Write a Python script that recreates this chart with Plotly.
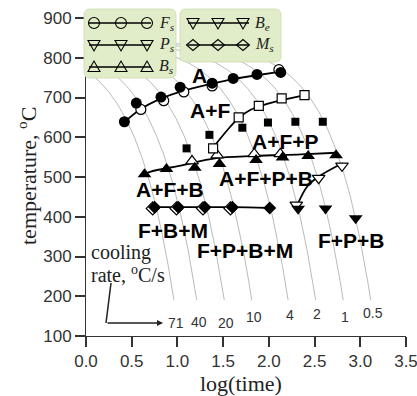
import numpy as np
import plotly.graph_objects as go

# ---------------- data ----------------
# cooling rates of the thin grey cooling curves, degC/s
rates = [71, 40, 20, 10, 4, 2, 1, 0.5]
rate_labels = ["71", "40", "20", "10", "4", "2", "1", "0.5"]
T_start = 840      # start temperature of the cooling curves
T_end = 190        # curves drawn down to this temperature

# filled circles
fc_x = [0.42, 0.55, 0.82, 1.03, 1.38, 1.61, 1.87, 2.13]
fc_T = [639, 686, 701, 726, 736, 748, 758, 763]
# open circles (F_s)
fs_x = [0.60, 0.85, 1.07, 1.38, 2.11]
fs_T = [670, 692, 714, 729, 770]
# F_s fitted line
fsfit_x = [0.42, 0.60, 0.82, 1.05, 1.38, 1.62, 1.87, 2.13]
fsfit_T = [638, 671, 697, 716, 735, 747, 756, 765]

# open squares (pearlite start)
ps_x = [1.39, 1.67, 1.89, 2.14, 2.39]
ps_T = [572, 650, 679, 698, 706]
psfit_x = [1.39, 1.58, 1.67, 1.80, 1.94, 2.16, 2.39]
psfit_T = [574, 627, 648, 669, 681, 694, 706]
# filled squares
sq_x = [1.10, 1.35, 1.71, 1.99, 2.29, 2.59]
sq_T = [572, 606, 624, 637, 639, 639]

# filled triangles
bt_x = [0.64, 0.88, 1.19, 1.46, 1.86, 2.15, 2.43, 2.735]
bt_T = [507, 520, 523, 533, 543, 549, 553, 555]
# open triangles (B_s)
bs_x = [1.16, 1.435, 1.84, 2.125]
bs_T = [540, 555, 558, 558]
bsfit_x = [0.64, 0.70, 1.06, 1.41, 1.85, 2.35, 2.74]
bsfit_T = [507, 513, 530, 547, 553, 557, 561]

# filled diamonds
md_x = [0.75, 1.01, 1.30, 1.60, 2.01]
md_T = [424, 424, 424, 424, 422]
# open diamonds (M_s)
ms_x = [0.73, 0.99, 1.28, 1.58]
ms_T = [421, 421, 421, 421]

# filled inverted triangles
bf_x = [2.32, 2.62, 2.95]
bf_T = [420, 421, 396]
# open inverted triangles (B_e)
be_x = [2.30, 2.545, 2.80]
be_T = [430, 497, 528]
befit_x = [2.32, 2.42, 2.545, 2.80]
befit_T = [434, 476, 501, 534]

x_ticks = [0.0, 0.5, 1.0, 1.5, 2.0, 2.5, 3.0, 3.5]
x_ticktext = ["0.0", "0.5", "1.0", "1.5", "2.0", "2.5", "3.0", "3.5"]
y_ticks = [100, 200, 300, 400, 500, 600, 700, 800, 900]

phase_labels = ["A", "A+F", "A+F+P", "A+F+P+B", "A+F+B", "F+B+M", "F+P+B+M", "F+P+B"]

# ---------------- layout geometry ----------------
W, H = 417, 396
ML, MR, MT, MB = 86, 11, 18, 60
PW, PH = W - ML - MR, H - MT - MB
X0 = H - MB  # pixel row of y=100


def xp(px):
    return (px - ML) / PW


def yp(py):
    return (X0 - py) / PH


def dx(px):
    return (px - ML) / PW * 3.5


def dT(py):
    return 100 + (X0 - py) / PH * 800


def P(px, py):
    return f"{xp(px):.5f},{yp(py):.5f}"


fig = go.Figure()

# cooling curves
for r in rates:
    Ts = np.linspace(T_start - 0.3, T_end, 400)
    xs = np.log10((T_start - Ts) / r)
    fig.add_trace(go.Scatter(x=xs, y=Ts, mode="lines",
                             line=dict(color="#a8a8a8", width=0.8),
                             hoverinfo="skip"))

# fitted lines
for fx, fy in [(fsfit_x, fsfit_T), (psfit_x, psfit_T), (bsfit_x, bsfit_T),
               (md_x, md_T), (befit_x, befit_T)]:
    fig.add_trace(go.Scatter(x=fx, y=fy, mode="lines",
                             line=dict(color="black", width=1.8, shape="spline"),
                             hoverinfo="skip"))

openm = dict(color="white", line=dict(color="black", width=1.2))
fig.add_trace(go.Scatter(x=fs_x, y=fs_T, mode="markers",
                         marker=dict(symbol="circle", size=10, **openm)))
fig.add_trace(go.Scatter(x=bs_x, y=bs_T, mode="markers",
                         marker=dict(symbol="triangle-up", size=11, **openm)))
fig.add_trace(go.Scatter(x=ms_x, y=ms_T, mode="markers",
                         marker=dict(symbol="diamond", size=10, **openm)))
fig.add_trace(go.Scatter(x=be_x, y=be_T, mode="markers",
                         marker=dict(symbol="triangle-down", size=11, **openm)))
fig.add_trace(go.Scatter(x=ps_x, y=ps_T, mode="markers",
                         marker=dict(symbol="square", size=9, **openm)))

fill = dict(color="black")
fig.add_trace(go.Scatter(x=fc_x, y=fc_T, mode="markers",
                         marker=dict(symbol="circle", size=11, **fill)))
fig.add_trace(go.Scatter(x=sq_x, y=sq_T, mode="markers",
                         marker=dict(symbol="square", size=8, **fill)))
fig.add_trace(go.Scatter(x=bt_x, y=bt_T, mode="markers",
                         marker=dict(symbol="triangle-up", size=12, **fill)))
fig.add_trace(go.Scatter(x=md_x, y=md_T, mode="markers",
                         marker=dict(symbol="diamond", size=10, **fill)))
fig.add_trace(go.Scatter(x=bf_x, y=bf_T, mode="markers",
                         marker=dict(symbol="triangle-down", size=12, **fill)))

annotations = []
shapes = []

# phase-field labels
label_pos = [(199, 75), (210, 110), (285, 141), (266, 178), (170, 189),
             (173, 230), (245, 250), (351, 240)]
for txt, (px, py) in zip(phase_labels, label_pos):
    annotations.append(dict(x=dx(px), y=dT(py), xref="x", yref="y", text=txt,
                            showarrow=False, xanchor="center", yanchor="middle",
                            font=dict(family="Liberation Sans", size=21, color="black",
                                      weight="bold")))

# cooling-rate labels at the end of each curve
label_T = [133, 135, 133, 148, 153, 155, 148, 158]
for r, lab, lt in zip(rates, rate_labels, label_T):
    xe = np.log10((T_start - T_end) / r) + 0.02
    annotations.append(dict(x=xe, y=lt, xref="x", yref="y", text=lab,
                            showarrow=False, xanchor="center", yanchor="middle",
                            font=dict(family="Liberation Sans", size=14, color="#333")))

# "cooling rate" note and arrow
serif = "Liberation Serif"
annotations.append(dict(x=xp(89), y=yp(252), xref="paper", yref="paper", text="cooling",
                        showarrow=False, xanchor="left", yanchor="middle",
                        font=dict(family=serif, size=20, color="#222")))
annotations.append(dict(x=xp(89), y=yp(274), xref="paper", yref="paper",
                        text="rate, <sup>o</sup>C/s",
                        showarrow=False, xanchor="left", yanchor="middle",
                        font=dict(family=serif, size=20, color="#222")))
shapes.append(dict(type="line", xref="paper", yref="paper",
                   x0=xp(111), y0=yp(283), x1=xp(106), y1=yp(323),
                   line=dict(color="#222", width=1.5)))
annotations.append(dict(x=xp(163), y=yp(323), xref="paper", yref="paper", text="",
                        showarrow=True, ax=-57, ay=0, arrowhead=2, arrowsize=0.8,
                        arrowwidth=1.5, arrowcolor="#222"))

# axis titles
annotations.append(dict(x=xp(241), y=yp(383), xref="paper", yref="paper", text="log(time)",
                        showarrow=False, xanchor="center", yanchor="middle",
                        font=dict(family=serif, size=22, color="#222")))
annotations.append(dict(x=xp(27), y=yp(176), xref="paper", yref="paper",
                        text="temperature, <sup>o</sup>C", textangle=-90,
                        showarrow=False, xanchor="center", yanchor="middle",
                        font=dict(family=serif, size=22, color="#222")))


# legend boxes drawn by hand
def rrect(x0, y0, x1, y1, r):
    return (f"M {P(x0 + r, y0)} L {P(x1 - r, y0)} Q {P(x1, y0)} {P(x1, y0 + r)} "
            f"L {P(x1, y1 - r)} Q {P(x1, y1)} {P(x1 - r, y1)} L {P(x0 + r, y1)} "
            f"Q {P(x0, y1)} {P(x0, y1 - r)} L {P(x0, y0 + r)} Q {P(x0, y0)} {P(x0 + r, y0)} Z")


box_fill = "#e1edc8"
box_line = "#cbdab0"
for bx in [(84, 9, 176, 78), (180, 9, 281, 62)]:
    shapes.append(dict(type="path", xref="paper", yref="paper", layer="above",
                       path=rrect(*bx, 6), fillcolor=box_fill,
                       line=dict(color=box_line, width=0.8)))


def marker_path(sym, cx, cy):
    if sym == "up":
        pts = [(cx - 6, cy + 4.5), (cx + 6, cy + 4.5), (cx, cy - 6)]
    elif sym == "down":
        pts = [(cx - 6, cy - 4.5), (cx + 6, cy - 4.5), (cx, cy + 6)]
    else:
        pts = [(cx - 6.5, cy), (cx, cy - 5.5), (cx + 6.5, cy), (cx, cy + 5.5)]
    return "M " + " L ".join(P(a, b) for a, b in pts) + " Z"


legend_rows = [
    ("circle", "F", "s", 23, [94, 121, 147], (89, 151), 157),
    ("down", "P", "s", 45, [94, 121, 147], (89, 151), 157),
    ("up", "B", "s", 67, [94, 121, 147], (89, 151), 157),
    ("down", "B", "e", 23, [193, 218, 243], (188, 249), 253),
    ("diamond", "M", "s", 45, [193, 218, 243], (188, 249), 253),
]
for sym, main, sub, ry, mxs, (lx0, lx1), tx in legend_rows:
    shapes.append(dict(type="line", xref="paper", yref="paper", layer="above",
                       x0=xp(lx0), y0=yp(ry), x1=xp(lx1), y1=yp(ry),
                       line=dict(color="black", width=1.6)))
    for mx in mxs:
        if sym == "circle":
            shapes.append(dict(type="circle", xref="paper", yref="paper", layer="above",
                               x0=xp(mx - 5.5), x1=xp(mx + 5.5), y0=yp(ry + 5.5), y1=yp(ry - 5.5),
                               line=dict(color="black", width=1.1)))
        else:
            shapes.append(dict(type="path", xref="paper", yref="paper", layer="above",
                               path=marker_path(sym, mx, ry),
                               line=dict(color="black", width=1.1)))
    annotations.append(dict(x=xp(tx), y=yp(ry), xref="paper", yref="paper",
                            text=f"<i>{main}<sub>{sub}</sub></i>", showarrow=False,
                            xanchor="left", yanchor="middle",
                            font=dict(family=serif, size=16, color="#222")))

axis_common = dict(showline=True, linecolor="#333", linewidth=1, ticks="outside",
                   ticklen=10, tickwidth=1.5, tickcolor="#333", showgrid=False,
                   zeroline=False, ticklabeloverflow="allow",
                   tickfont=dict(family="Liberation Sans", size=17, color="#333"))

fig.update_layout(
    width=W, height=H,
    margin=dict(l=ML, r=MR, t=MT, b=MB, pad=0, autoexpand=False),
    paper_bgcolor="white", plot_bgcolor="white",
    showlegend=False,
    xaxis=dict(range=[0, 3.5], tickvals=x_ticks, ticktext=x_ticktext, **axis_common),
    yaxis=dict(range=[100, 900], tickvals=y_ticks, **axis_common),
    shapes=shapes, annotations=annotations,
)

# remove the browser's default page margin so the figure fills the window exactly
fig.write_html("out.html", config={"displayModeBar": False},
               post_script="document.body.style.margin='0';document.body.style.overflow='hidden';")
